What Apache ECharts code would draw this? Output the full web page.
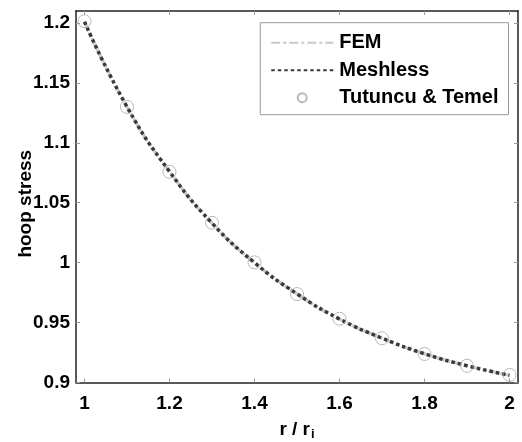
<!DOCTYPE html>
<html>
<head>
<meta charset="utf-8">
<script src="https://cdn.jsdelivr.net/npm/echarts@6/dist/echarts.min.js"></script>
<style>
  html, body { margin: 0; padding: 0; background: #fff; }
  #chart { width: 522px; height: 442px; }
</style>
</head>
<body>
<div id="chart"></div>
<script>
// ---- data ----
const rRatio = [1.0, 1.1, 1.2, 1.3, 1.4, 1.5, 1.6, 1.7, 1.8, 1.9, 2.0];
const femStress = [1.201, 1.130, 1.076, 1.033, 1.000, 0.974, 0.953, 0.937, 0.924, 0.914, 0.906];
const meshlessStress = [1.201, 1.130, 1.076, 1.033, 1.000, 0.974, 0.953, 0.937, 0.924, 0.914, 0.906];
const tutuncuStress = [1.2015, 1.130, 1.0758, 1.0333, 1.0003, 0.9738, 0.9532, 0.9369, 0.9238, 0.914, 0.9063];
const xTicks = [1, 1.2, 1.4, 1.6, 1.8, 2];
const yTicks = [0.9, 0.95, 1, 1.05, 1.1, 1.15, 1.2];

const FONT = "'Liberation Sans', Arial, Helvetica, sans-serif";
const pairs = (xs, ys) => xs.map((x, i) => [x, ys[i]]);

const chart = echarts.init(document.getElementById('chart'), null, { renderer: 'canvas' });

const axisLineStyle = { color: '#222', width: 1.5 };
const tickStyle = { color: '#999', width: 1 };

chart.setOption({
  animation: false,
  backgroundColor: '#fff',
  grid: { left: 76, right: 4, top: 11, bottom: 59.5, containLabel: false, outerBoundsMode: 'none' },
  legend: {
    right: 13.5, top: 22.7,
    orient: 'vertical',
    backgroundColor: '#fff',
    borderColor: '#999', borderWidth: 1,
    padding: [10, 10, 7, 10],
    itemWidth: 62, itemHeight: 9, itemGap: 7.5,
    textStyle: { fontFamily: FONT, fontWeight: 'bold', fontSize: 20, color: '#000', lineHeight: 20, padding: [0, 0, 0, 1] },
    data: [
      { name: 'FEM', itemStyle: { opacity: 0 } },
      { name: 'Meshless', itemStyle: { opacity: 0 } },
      { name: 'Tutuncu & Temel', icon: 'circle' }
    ]
  },
  xAxis: [{
    type: 'value', min: 0.98, max: 2.02,
    name: '{a|r / r}{b|i}',
    nameLocation: 'middle', nameGap: 36, nameMoveOverlap: false,
    nameTextStyle: {
      rich: {
        a: { fontFamily: FONT, fontWeight: 'bold', fontSize: 19, color: '#000' },
        b: { fontFamily: FONT, fontWeight: 'bold', fontSize: 13, color: '#000', padding: [9, 0, 0, 1], verticalAlign: 'bottom' }
      }
    },
    axisLine: { show: true, onZero: false, lineStyle: axisLineStyle },
    axisTick: { show: true, inside: true, length: 4, lineStyle: tickStyle, customValues: xTicks },
    axisLabel: { customValues: xTicks, margin: 12, fontFamily: FONT, fontWeight: 'bold', fontSize: 19, color: '#000', formatter: v => String(v) },
    splitLine: { show: false }
  }, {
    type: 'value', min: 0.98, max: 2.02, position: 'top',
    axisLine: { show: true, onZero: false, lineStyle: axisLineStyle },
    axisTick: { show: true, inside: true, length: 4, lineStyle: tickStyle, customValues: xTicks },
    axisLabel: { show: false },
    splitLine: { show: false }
  }],
  yAxis: [{
    type: 'value', min: 0.9, max: 1.21,
    name: 'hoop stress',
    nameLocation: 'middle', nameGap: 41, nameRotate: 90, nameMoveOverlap: false,
    nameTextStyle: { fontFamily: FONT, fontWeight: 'bold', fontSize: 19, color: '#000', padding: [0, 14, 0, 0] },
    axisLine: { show: true, onZero: false, lineStyle: axisLineStyle },
    axisTick: { show: true, inside: true, length: 4, lineStyle: tickStyle, customValues: yTicks },
    axisLabel: { customValues: yTicks, margin: 6, fontFamily: FONT, fontWeight: 'bold', fontSize: 19, color: '#000', formatter: v => String(v) },
    splitLine: { show: false }
  }, {
    type: 'value', min: 0.9, max: 1.21, position: 'right',
    axisLine: { show: true, onZero: false, lineStyle: axisLineStyle },
    axisTick: { show: true, inside: true, length: 4, lineStyle: tickStyle, customValues: yTicks },
    axisLabel: { show: false },
    splitLine: { show: false }
  }],
  series: [{
    name: 'FEM', type: 'line', smooth: true, symbol: 'none',
    data: pairs(rRatio, femStress),
    lineStyle: { color: '#c8c8c8', width: 3, type: [9, 3, 3, 3] },
    itemStyle: { color: '#c8c8c8' },
    z: 2
  }, {
    name: 'Meshless', type: 'line', smooth: true, symbol: 'none',
    data: pairs(rRatio, meshlessStress),
    lineStyle: { color: '#3a3a3a', width: 3.5, type: [3.5, 3], cap: 'butt' },
    itemStyle: { color: '#3a3a3a' },
    z: 3
  }, {
    name: 'Tutuncu & Temel', type: 'scatter', symbol: 'circle', symbolSize: 13,
    data: pairs(rRatio, tutuncuStress),
    itemStyle: { color: 'rgba(255,255,255,0)', borderColor: '#a8a8a8', borderWidth: 1 },
    z: 4
  }]
});
</script>
</body>
</html>
